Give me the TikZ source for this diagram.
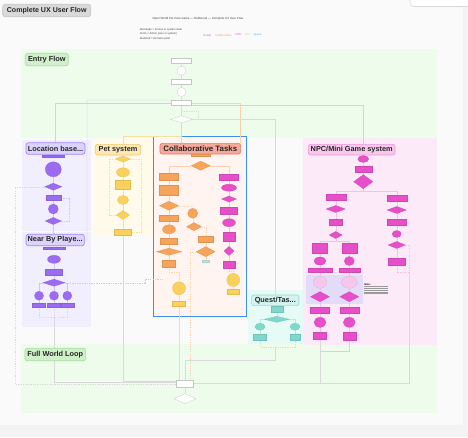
\documentclass[tikz,border=0pt]{standalone}
\usepackage{fontspec}
\setmainfont{Liberation Sans}
\usetikzlibrary{shapes.geometric,calc}
\pgfdeclarelayer{panel}
\pgfdeclarelayer{edge}
\pgfsetlayers{panel,edge,main}
\definecolor{bgA}{HTML}{F3F3F3}
\definecolor{bgB}{HTML}{FAFAFA}
\definecolor{gPan}{HTML}{EEFCEB}
\definecolor{gLab}{HTML}{CFF0C9}
\definecolor{gLabB}{HTML}{A6DCA0}
\definecolor{vPan}{HTML}{F1EEFD}
\definecolor{vLab}{HTML}{DCD3FC}
\definecolor{vLabB}{HTML}{A184F0}
\definecolor{yPan}{HTML}{FFFAEA}
\definecolor{yLab}{HTML}{FCE7B6}
\definecolor{yLabB}{HTML}{F0C96E}
\definecolor{cPan}{HTML}{FFF4F0}
\definecolor{cBord}{HTML}{3D8FEB}
\definecolor{cLab}{HTML}{F4A99B}
\definecolor{cLabB}{HTML}{E27B69}
\definecolor{pPan}{HTML}{FDEAF8}
\definecolor{pLab}{HTML}{F8C8EC}
\definecolor{pLabB}{HTML}{E79AD8}
\definecolor{qPan}{HTML}{E6FAF6}
\definecolor{qLab}{HTML}{D3F4EE}
\definecolor{qLabB}{HTML}{97DDD2}
\definecolor{tLab}{HTML}{D9D9D9}
\definecolor{tLabB}{HTML}{C4C4C4}
\definecolor{pu}{HTML}{9B6BF2}
\definecolor{ye}{HTML}{FAD15C}
\definecolor{og}{HTML}{F6A45A}
\definecolor{pk}{HTML}{E64FC8}
\definecolor{lpk}{HTML}{F6C6EC}
\definecolor{tq}{HTML}{7FD8CC}
\definecolor{lav}{HTML}{E2DCF8}
\definecolor{blueL}{HTML}{C3D4F6}
\definecolor{purL}{HTML}{D2C4F8}
\definecolor{orL}{HTML}{F8D2AE}
\definecolor{pkL}{HTML}{F3C0E6}
\definecolor{tqL}{HTML}{B8EAE2}
\definecolor{yeL}{HTML}{F4E0A6}
\definecolor{grL}{HTML}{DADADA}
\begin{document}
\begin{tikzpicture}[x=0.75pt,y=-0.75pt,
  nd/.style={inner sep=0pt, outer sep=0pt, line width=0.2pt},
  sz/.style 2 args={minimum width=#1*0.75pt, minimum height=#2*0.75pt},
  rbox/.style={nd, rectangle, fill=#1, draw=#1!90!black},
  ebox/.style={nd, ellipse, fill=#1, draw=#1!90!black},
  dbox/.style={nd, diamond, fill=#1, draw=#1!90!black},
  wbox/.style={nd, rectangle, fill=white, draw=gray!45},
  lab/.style={nd, rectangle, rounded corners=1.8pt, line width=0.5pt, font=\bfseries\fontsize{5.5}{6}\selectfont, text=black!85},
  cn/.style={draw=#1, line width=0.3pt},
  cd/.style={draw=#1, line width=0.3pt, dash pattern=on 1pt off 0.8pt},
  tiny/.style={inner sep=0pt, font=\fontsize{2.1}{2.55}\selectfont}
]
\useasboundingbox (0,0) rectangle (468,437);
\begin{pgfonlayer}{panel}
\fill[bgA] (0,0) rectangle (468,437);
\fill[bgB] (0,0) rectangle (463,425);
\draw[gray!30, fill=white, rounded corners=3pt, line width=0.4pt] (410,-6) rectangle (475,6.5);
\fill[gPan] (21,49) rectangle (437,138);
\fill[gPan] (21,344.3) rectangle (437,412.7);
\fill[vPan] (22,140) rectangle (91,231);
\fill[vPan] (22,232) rectangle (91,326.7);
\fill[yPan] (93,138) rectangle (153,235);
\fill[pPan] (303,138) rectangle (437,345);
\fill[lav] (305.7,275) rectangle (363.3,304.3);
\fill[qPan] (248,290) rectangle (303,344);
\draw[cBord, fill=cPan, line width=1.1pt] (153.3,136.7) rectangle (246.7,316.7);
\end{pgfonlayer}

% header
\node[lab, fill=tLab, draw=tLabB, sz={88}{12.4}, font=\bfseries\fontsize{5.3}{6}\selectfont] (title) at (46.7,10.5) {Complete UX User Flow};
\node[tiny, font=\fontsize{2.2}{2.5}\selectfont, text=black!75] (hd) at (198,18.8) {Open World Pet Care Game — Rollbound — Complete UX User Flow};
\node[tiny, anchor=west, align=left, text=black!75, font=\fontsize{2.0}{3.4}\selectfont] (lg) at (139.5,34.2) {Rectangle = Screen or system state\\Circle = Action (user or system)\\Diamond = Decision point};
\node[tiny, text=pu] (lgA) at (207.2,35) {Social};
\node[tiny, text=og] (lgB) at (223.5,35) {Collaborative};
\node[tiny, text=pk] (lgC) at (238.7,35) {NPC};
\node[tiny, text=ye!80!orange] (lgD) at (247.5,35) {Pet};
\node[tiny, text=tq!80!blue] (lgE) at (257.7,35) {Quest};

% section labels
\node[lab, fill=gLab, draw=gLabB, sz={43}{12.4}] (entL) at (46.8,59.5) {Entry Flow};
\node[lab, fill=vLab, draw=vLabB, sz={59}{11.4}] (locL) at (55.5,148.5) {Location base...};
\node[lab, fill=yLab, draw=yLabB, sz={45.4}{10.7}] (petL) at (118,149.7) {Pet system};
\node[lab, fill=cLab, draw=cLabB, sz={80.7}{10.7}, font=\bfseries\fontsize{5.9}{6.5}\selectfont] (colL) at (200.3,148.7) {Collaborative Tasks};
\node[lab, fill=pLab, draw=pLabB, sz={86.7}{10.7}] (npcL) at (351.7,149.7) {NPC/Mini Game system};
\node[lab, fill=vLab, draw=vLabB, sz={58.3}{11.4}] (nbyL) at (55.2,240) {Near By Playe...};
\node[lab, fill=qLab, draw=qLabB, sz={47.3}{10.7}] (qstL) at (275.3,300.3) {Quest/Tas...};
\node[lab, fill=gLab, draw=gLabB, sz={60.7}{12.4}] (fwlL) at (55.3,354.5) {Full World Loop};

% entry flow nodes
\node[wbox, sz={20}{5}] (e1) at (181.5,60.5) {};
\node[wbox, ellipse, sz={9}{9}] (e2) at (181.5,70.7) {};
\node[wbox, sz={20}{5.5}] (e3) at (181.5,81.5) {};
\node[wbox, ellipse, sz={9}{9}] (e4) at (181.5,92) {};
\node[wbox, sz={20}{5.5}] (e5) at (181.5,102.7) {};
\node[wbox, diamond, sz={22}{7}] (e6) at (181.5,119.3) {};

% world loop nodes
\node[wbox, sz={17}{7}] (w1) at (185,384) {};
\node[wbox, diamond, sz={22}{10}] (w2) at (185,398.7) {};

% location based
\node[rbox=pu, sz={22}{2}] (l0) at (53.3,156) {};
\node[ebox=pu, sz={16}{15}] (l1) at (53.3,169.3) {};
\node[dbox=pu, sz={17}{7}] (l2) at (53.3,186.7) {};
\node[rbox=pu, sz={15}{5}] (l3) at (53.3,197.7) {};
\node[ebox=pu, sz={10}{10}] (l4) at (53.3,209) {};
\node[dbox=pu, sz={16}{7}] (l5) at (53.3,221) {};

% near by player
\node[rbox=pu, sz={22}{2}] (m0) at (54,248) {};
\node[ebox=pu, sz={13}{8}] (m1) at (54,259.3) {};
\node[rbox=pu, sz={17}{6}] (m2) at (54,272.3) {};
\node[dbox=pu, sz={22}{7}] (m3) at (54,282.7) {};
\node[ebox=pu, sz={9}{9}] (m4a) at (39,295.7) {};
\node[ebox=pu, sz={9}{9}] (m4b) at (54,295.7) {};
\node[ebox=pu, sz={9}{9}] (m4c) at (67.3,295.7) {};
\node[rbox=pu, sz={13}{4}] (m5a) at (39,305) {};
\node[rbox=pu, sz={13}{4}] (m5b) at (54,305) {};
\node[rbox=pu, sz={13}{4}] (m5c) at (67.3,305) {};

% pet
\node[dbox=ye, sz={15}{6}] (p1) at (123,159) {};
\node[ebox=ye, sz={13}{9}] (p2) at (123,172.3) {};
\node[rbox=ye, sz={15}{9}] (p3) at (123,185) {};
\node[ebox=ye, sz={11}{9}] (p4) at (123,200) {};
\node[dbox=ye, sz={13}{9}] (p5) at (123,215) {};
\node[rbox=ye, sz={17}{6}] (p6) at (123,231.7) {};

% collaborative
\node[rbox=og, sz={18.6}{1.5}] (c0) at (200.7,155) {};
\node[dbox=og, sz={19}{9}] (cd1) at (200.7,165.7) {};
\node[rbox=og, sz={19}{7}] (c1) at (169,176.7) {};
\node[rbox=og, sz={19}{10}] (c2) at (169,190) {};
\node[dbox=og, sz={19}{9}] (cd2) at (169,205.7) {};
\node[rbox=og, sz={19}{6}] (c3) at (169,217.7) {};
\node[ebox=og, sz={13}{9}] (ce1) at (169,229.3) {};
\node[rbox=og, sz={17}{6}] (c4) at (169,241) {};
\node[dbox=og, sz={25}{7}] (cd3) at (169,251.7) {};
\node[rbox=og, sz={13}{7}] (c5) at (169,263.3) {};
\node[ebox=ye, sz={13}{13}] (yc1) at (179,288.3) {};
\node[rbox=ye, sz={13}{5}] (yr1) at (179,303.3) {};
\node[ebox=og, sz={10}{10}] (cm1) at (192.7,213.3) {};
\node[dbox=og, sz={15}{8}] (cmd) at (194,226.7) {};
\node[rbox=og, sz={15}{6}] (cm2) at (205.7,239.3) {};
\node[dbox=og, sz={19}{10}] (cmd2) at (205.7,251.7) {};
\node[rbox=tqL, sz={7}{1.5}] (cbar) at (205.7,261) {};
\node[rbox=pk, sz={19}{6}] (k1) at (229,176.7) {};
\node[ebox=pk, sz={15}{7}] (k2) at (229,187.7) {};
\node[dbox=pk, sz={15}{6}] (k3) at (229,199) {};
\node[rbox=pk, sz={17}{7}] (k4) at (229,211) {};
\node[ebox=pk, sz={13}{8}] (k5) at (229,222.7) {};
\node[rbox=pk, sz={12}{9}] (k6) at (229,236.7) {};
\node[dbox=pk, sz={10}{9}] (k7) at (229,251) {};
\node[rbox=pk, sz={12}{7}] (k8) at (229,264.3) {};
\node[ebox=ye, sz={13}{13}] (yc2) at (233.3,280) {};
\node[rbox=ye, sz={12}{5}] (yr2) at (233.3,291.7) {};

% NPC
\node[ebox=pk, sz={11}{7}] (n1) at (363.3,159) {};
\node[rbox=pk, sz={17}{6}] (n2) at (363.3,169.3) {};
\node[dbox=pk, sz={19}{14}] (nd1) at (363.3,181.7) {};
\node[rbox=pk, sz={20}{6}] (a1) at (335.7,197.3) {};
\node[dbox=pk, sz={19}{7}] (ad1) at (335.7,209) {};
\node[rbox=pk, sz={13}{6}] (a2) at (335.7,222.3) {};
\node[dbox=pk, sz={13}{7}] (ad2) at (335.7,235) {};
\node[rbox=pk, sz={15}{10}] (a3a) at (320,248.3) {};
\node[rbox=pk, sz={15}{10}] (a3b) at (349.3,248.3) {};
\node[ebox=pk, sz={12}{8}] (a4a) at (320,261) {};
\node[ebox=pk, sz={10}{9}] (a4b) at (349.3,261) {};
\node[rbox=pk, sz={24}{4}] (a5a) at (320,270) {};
\node[rbox=pk, sz={21}{4}] (a5b) at (349.3,270) {};
\node[ebox=lpk, sz={14}{12}] (a6a) at (320,282.3) {};
\node[ebox=lpk, sz={16}{12}] (a6b) at (349.3,282.3) {};
\node[dbox=pk, sz={19}{10}] (a7a) at (320,296.7) {};
\node[dbox=pk, sz={19}{10}] (a7b) at (349.3,296.7) {};
\node[rbox=pk, sz={19}{6}] (a8a) at (320,310) {};
\node[rbox=pk, sz={19}{6}] (a8b) at (349.3,310) {};
\node[ebox=pk, sz={12}{10}] (a9a) at (320,322.3) {};
\node[ebox=pk, sz={12}{10}] (a9b) at (349.3,322.3) {};
\node[rbox=pk, sz={13}{7}] (a10a) at (320,335.7) {};
\node[rbox=pk, sz={13}{8}] (a10b) at (349.3,335.7) {};
\node[rbox=pk, sz={20}{6}] (r1) at (396.7,197.7) {};
\node[dbox=pk, sz={19}{7}] (rd1) at (396.7,210) {};
\node[rbox=pk, sz={19}{6}] (r2) at (396.7,221.7) {};
\node[ebox=pk, sz={9}{7}] (re) at (396.7,234) {};
\node[dbox=pk, sz={17}{7}] (rd2) at (396.7,245) {};
\node[rbox=pk, sz={17}{7}] (r3) at (396.7,261.7) {};
\node[inner sep=0pt, anchor=north west, font=\bfseries\fontsize{1.9}{2.2}\selectfont] (note) at (364,283) {Note:};
\foreach \yy in {286.5,288.3,290.1,291.9,293.7} {\draw[black!40, line width=0.4pt] (364,\yy) -- (388,\yy);}

% quest
\node[rbox=tq, sz={12}{6}] (q1) at (276.7,309.3) {};
\node[dbox=tq, sz={25}{6}] (qd) at (276.7,319.3) {};
\node[ebox=tq, sz={10}{7}] (qe1) at (260,326.7) {};
\node[ebox=tq, sz={10}{7}] (qe2) at (295,326.7) {};
\node[rbox=tq, sz={13}{6}] (qr1) at (260,337.3) {};
\node[rbox=tq, sz={10}{6}] (qr2) at (295,337.3) {};

% ---------- connectors ----------
\begin{pgfonlayer}{edge}
\draw[cn=grL] (e1) -- (e2) -- (e3) -- (e4) -- (e5) -- (e6);
\draw[cd=grL] (e6.east) -- (198,119.3) -- (198,111) coordinate (eloop) -- (181.5,111);
\draw[cn=grL] (e6.south) -- (e6.south |- colL.north);
\coordinate (pj) at (181.5,136);
\draw[cn=yeL] (pj) -| (petL.north -| p1.north);
\draw[cn=blueL] (e5.west) -| (locL.north);
\draw[cn=purL] (e5.north west) -- (87,100) -- (87,240) -- (nbyL.east);
\draw[cn=orL] (e5.east) -| (colL.north east);
\draw[cn=pkL] (e5.south east) -| (n1.north);
\draw[cn=tqL] (e6.east) -| (qstL.north);

\draw[cn=purL] (l1) -- (l2) -- (l3) -- (l4) -- (l5);
\draw[cn=purL] (l5.south) -- (l5.south |- nbyL.north);
\draw[cd=purL] (l3.east) -- (69.3,197.7) |- (l5.east);
\draw[cd=grL] (l2.west) -- (15,186.7) |- (w1.west);

\draw[cn=purL] (m1) -- (m2) -- (m3) -- (m4b);
\draw[cn=purL] (m3.west) -| (m4a.north);
\draw[cn=purL] (m3.east) -| (m4c.north);
\draw[cn=purL] (m4a) -- (m5a);
\draw[cn=purL] (m4b) -- (m5b);
\draw[cn=purL] (m4c) -- (m5c);
\coordinate (nbm) at (54,317.3);
\draw[cd=grL] (m5a.south) |- (nbm) -| (m5c.south);
\draw[cd=grL] (m5b.south) -- (nbm);
\draw[cn=grL] (nbm) |- ($(w1.west)+(0,-1.5)$);
\coordinate (cin) at (163,279);
\draw[cd=purL] (m3.east) -- (145,282.7) -- (145,279) -- (cin);

\draw[cn=yeL] (p1) -- (p2) -- (p3) -- (p4) -- (p5) -- (p6);
\draw[cd=yeL] (p5.west) -- (108.7,215) -- (108.7,159) -- (p1.west);
\draw[cd=yeL] (p6.east) -- (141.3,231.7) -- (141.3,159) -- (p1.east);
\draw[cn=grL] (p6.south) |- ($(w1.west)+(0,-2.8)$);

\draw[cn=orL] (cd1.west) -| (c1.north);
\draw[cn=orL] (cd1.east) -| (k1.north);
\draw[cn=orL] (c1) -- (c2) -- (cd2) -- (c3) -- (ce1) -- (c4) -- (cd3) -- (c5);
\draw[cd=orL] (c5.south) -- ++(0,5) -| (yc1.north);
\draw[cn=yeL] (yc1) -- (yr1);
\draw[cn=yeL] (yr1.south) -- (yr1.south |- w1.north);
\draw[cd=orL] (cd2.east) -| (cm1.north);
\draw[cn=orL] (cm1) -- (cmd);
\draw[cd=orL] (cmd.east) -| (cm2.north);
\draw[cn=orL] (cm2) -- (cmd2) -- (cbar);
\draw[cd=orL] (cmd2.west) -| ($(w1.north)+(5,0)$);
\draw[cn=pkL] (k1) -- (k2) -- (k3) -- (k4) -- (k5) -- (k6) -- (k7) -- (k8);
\draw[cd=pkL] (k8.south) -- ++(0,3) -| (yc2.north);
\draw[cn=yeL] (yc2) -- (yr2);

\draw[cn=pkL] (n1) -- (n2) -- (nd1);
\draw[cn=pkL] (nd1.south) -- ++(0,2.5) -| (a1.north);
\draw[cn=pkL] (nd1.south) -- ++(0,2.5) -| (r1.north);
\draw[cn=pkL] (a1) -- (ad1) -- (a2) -- (ad2);
\draw[cn=pkL] (ad2.south) -- ++(0,3) -| (a3a.north);
\draw[cn=pkL] (ad2.south) -- ++(0,3) -| (a3b.north);
\draw[cn=pkL] (a3a) -- (a4a) -- (a5a) -- (a6a) -- (a7a) -- (a8a) -- (a9a) -- (a10a);
\draw[cn=pkL] (a3b) -- (a4b) -- (a5b) -- (a6b) -- (a7b) -- (a8b) -- (a9b) -- (a10b);
\draw[cn=pkL] (r1) -- (rd1) -- (r2) -- (re) -- (rd2) -- (r3);
\draw[cd=pkL] (rd2.east) -- (409.3,245) -- (409.3,271.7) -- (396.7,271.7) -- (r3.south);
\draw[cn=grL] (409.3,271.7) |- ($(w1.east)+(0,-1)$);
\draw[cn=grL] (a10a.south) |- ($(w1.east)+(0,-1)$);
\draw[cn=pkL] (a10b.south) -- (349.3,351) -- (320,351);

\draw[cn=tqL] (q1) -- (qd);
\draw[cn=tqL] (qd.west) -| (qe1.north);
\draw[cn=tqL] (qd.east) -| (qe2.north);
\draw[cn=tqL] (qe1) -- (qr1);
\draw[cn=tqL] (qe2) -- (qr2);
\draw[cd=grL] (qr1.south) -- (260,346.7) -- (295,346.7) -- (qr2.south);
\draw[cn=grL] (275,346.7) -- (275,360) -| (w1.north);

\draw[cn=grL] (w1) -- (w2);
\end{pgfonlayer}
\end{tikzpicture}
\end{document}
